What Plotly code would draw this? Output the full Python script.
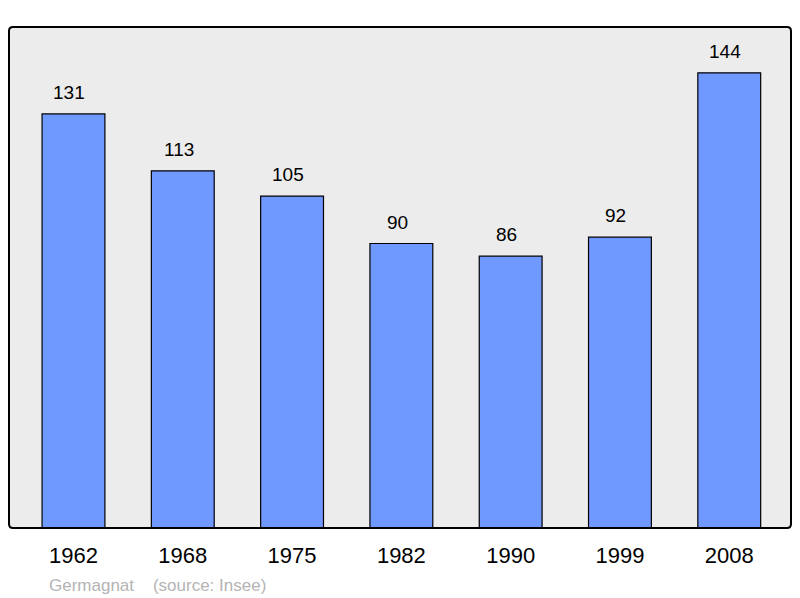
import plotly.graph_objects as go

years = ["1962", "1968", "1975", "1982", "1990", "1999", "2008"]
population = [131, 113, 105, 90, 86, 92, 144]

FONT = "Liberation Sans, Arial, sans-serif"

fig = go.Figure()
fig.add_trace(go.Bar(
    x=years, y=population,
    marker=dict(color="#7099ff", line=dict(color="#000000", width=1.2)),
    width=0.575,
    hoverinfo="skip",
))

for i, v in enumerate(population):
    fig.add_annotation(x=i, y=v, text=str(v), showarrow=False,
                       yanchor="bottom", yshift=9, xshift=-4,
                       font=dict(family=FONT, size=19, color="#000000"))

fig.add_annotation(xref="paper", yref="paper", x=(47-9)/782, y=-(574-528)/501,
                   xanchor="left", yanchor="top", showarrow=False,
                   text="Germagnat&nbsp;&nbsp;&nbsp;&nbsp;(source: Insee)",
                   font=dict(family=FONT, size=17, color="#b4b4b4"))

rx, ry = 4/782, 4/501
path = (f"M {rx},0 L {1-rx},0 Q 1,0 1,{ry} L 1,{1-ry} Q 1,1 {1-rx},1 "
        f"L {rx},1 Q 0,1 0,{1-ry} L 0,{ry} Q 0,0 {rx},0 Z")
fig.add_shape(type="path", xref="paper", yref="paper", path=path,
              line=dict(color="#000000", width=2), layer="above")

fig.update_layout(
    width=800, height=598,
    margin=dict(l=9, r=9, t=27, b=70),
    paper_bgcolor="#ffffff", plot_bgcolor="#ececec",
    showlegend=False,
    xaxis=dict(type="category", range=[-0.59, 6.565], showgrid=False, zeroline=False, ticks="",
               tickfont=dict(family=FONT, size=22, color="#000000"),
               ticklabelstandoff=12),
    yaxis=dict(range=[0, 158.5], showgrid=False, zeroline=False, showticklabels=False, ticks=""),
)

fig.write_html("out.html", config={"displayModeBar": False},
               post_script="document.body.style.margin='0';document.body.style.padding='0';")
